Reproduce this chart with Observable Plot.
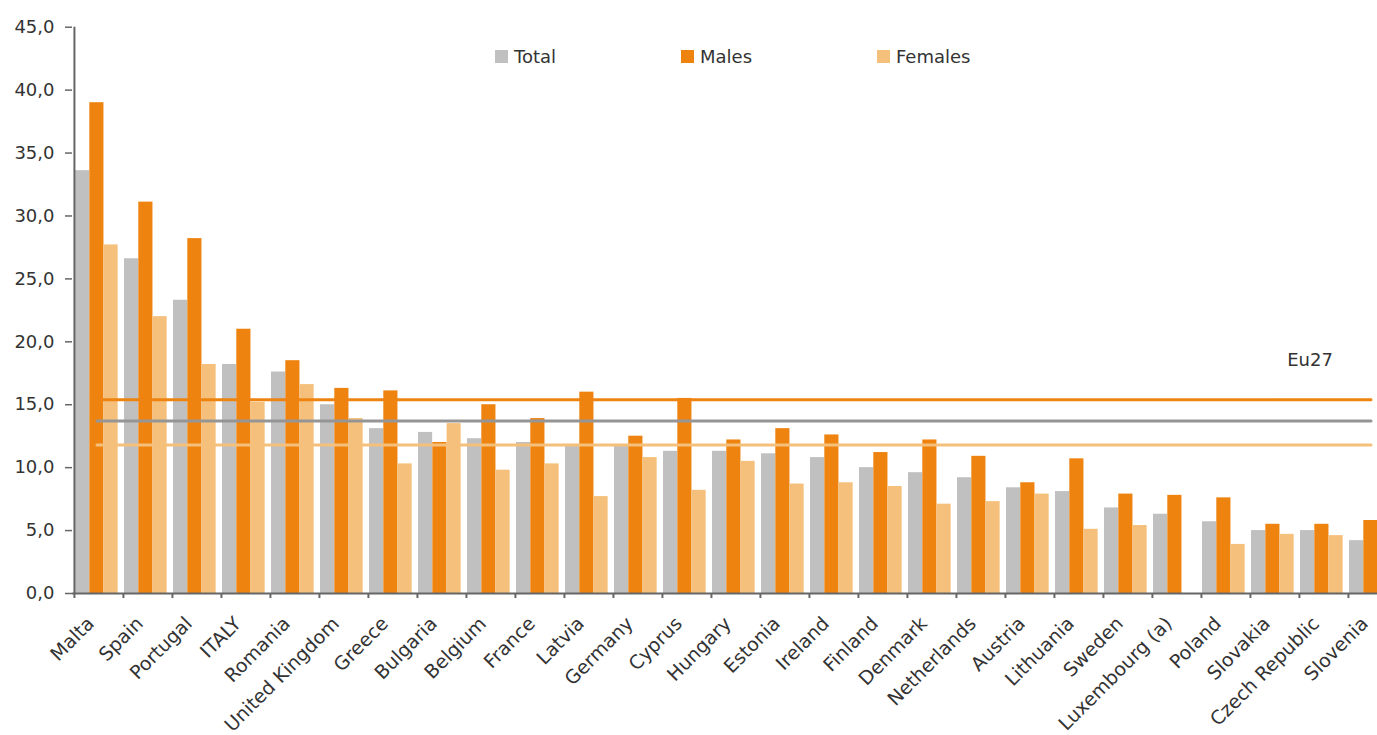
<!DOCTYPE html>
<html><head><meta charset="utf-8">
<script src="https://cdn.jsdelivr.net/npm/d3@7"></script>
<script src="https://cdn.jsdelivr.net/npm/@observablehq/plot@0.6"></script>
<style>
html,body{margin:0;padding:0;background:#fff;overflow:hidden;width:1377px;height:735px}
#wrap{position:relative;width:1377px;height:735px;overflow:hidden}
.item{position:absolute;top:47px;white-space:nowrap;display:flex;align-items:center;font:18px "DejaVu Sans";color:#333;height:18px}
.sw{display:inline-block;width:13px;height:13px;margin-right:6px}
</style></head><body><div id="wrap"><div id="chart"></div><div id="legend"></div></div>
<script>
const countries = ["Malta","Spain","Portugal","ITALY","Romania","United Kingdom","Greece","Bulgaria","Belgium","France","Latvia","Germany","Cyprus","Hungary","Estonia","Ireland","Finland","Denmark","Netherlands","Austria","Lithuania","Sweden","Luxembourg (a)","Poland","Slovakia","Czech Republic","Slovenia"];
const total   = [33.6,26.6,23.3,18.2,17.6,15.0,13.1,12.8,12.3,12.0,11.7,11.8,11.3,11.3,11.1,10.8,10.0,9.6,9.2,8.4,8.1,6.8,6.3,5.7,5.0,5.0,4.2];
const males   = [39.0,31.1,28.2,21.0,18.5,16.3,16.1,12.0,15.0,13.9,16.0,12.5,15.5,12.2,13.1,12.6,11.2,12.2,10.9,8.8,10.7,7.9,7.8,7.6,5.5,5.5,5.8];
const females = [27.7,22.0,18.2,15.2,16.6,13.9,10.3,13.5,9.8,10.3,7.7,10.8,8.2,10.5,8.7,8.8,8.5,7.1,7.3,7.9,5.1,5.4,null,3.9,4.7,4.6,null];
const seriesNames  = ["Total","Males","Females"];
const seriesColors = ["#c0c0c0","#ee8310","#f5c07b"];
const eu27Total = 13.7, eu27Males = 15.4, eu27Females = 11.8;
const eu27Label = "Eu27";
const yTicks = [0,5,10,15,20,25,30,35,40,45];

const rows = countries.map((c,i)=>({country:c,total:total[i],males:males[i],females:females[i]}));

const W = 1399, H = 735, mL = 72, mT = 26.7, mB = 142;
const bw = (W - mL) / countries.length;
const fmt = v => d3.format(".1f")(v).replace(".", ",");
const txt = "#333", axc = "#666";

const chart = Plot.plot({
  width: W, height: H, marginLeft: mL, marginRight: 0, marginTop: mT, marginBottom: mB,
  style: {fontFamily: "DejaVu Sans", fontSize: "18px", color: txt, maxWidth: "none", background: "white", overflow: "visible"},
  x: {domain: countries, type: "band", padding: 0, axis: null},
  y: {domain: [0,45], axis: null},
  marks: [
    Plot.barY(rows.filter(d=>d.total!=null), {x:"country", y:"total", fill: seriesColors[0], insetLeft: 1, insetRight: bw-15.3}),
    Plot.barY(rows.filter(d=>d.males!=null), {x:"country", y:"males", fill: seriesColors[1], insetLeft: 15.3, insetRight: bw-29.6}),
    Plot.barY(rows.filter(d=>d.females!=null), {x:"country", y:"females", fill: seriesColors[2], insetLeft: 29.6, insetRight: bw-43.8}),
    Plot.lineY(countries, {x: d=>d, y: ()=>eu27Males, stroke: "#ee8310", strokeWidth: 3, dx: -2}),
    Plot.lineY(countries, {x: d=>d, y: ()=>eu27Total, stroke: "#959595", strokeWidth: 3, dx: -2}),
    Plot.lineY(countries, {x: d=>d, y: ()=>eu27Females, stroke: "#f5c07b", strokeWidth: 3, dx: -2}),
    Plot.axisY(yTicks, {tickSize: 7, tickPadding: 11, tickFormat: fmt, stroke: axc, strokeWidth: 1.5, fill: txt}),
    Plot.ruleY([0], {stroke: axc, strokeWidth: 2}),
    Plot.ruleX([countries[0]], {x: d=>d, dx: -bw/2, y1: 0, y2: 45, stroke: axc, strokeWidth: 2}),
    Plot.ruleX(countries, {x: d=>d, dx: -bw/2, y1: 0, y2: -0.4, stroke: axc, strokeWidth: 2}),
    Plot.text(countries, {x: d=>d, frameAnchor: "bottom", dy: 27, dx: -8, rotate: -45, textAnchor: "end", lineAnchor: "middle", fill: txt, fontSize: 19}),
    Plot.text([eu27Label], {x: ()=>"Czech Republic", y: ()=>18.5, dx: -14, fill: txt})
  ]
});
document.getElementById("chart").appendChild(chart);

const legendLeft = [495, 681, 877];
const lg = document.getElementById("legend");
seriesNames.forEach((n,i)=>{
  const it = document.createElement("div");
  it.className = "item";
  it.style.left = legendLeft[i] + "px";
  it.innerHTML = `<span class="sw" style="background:${seriesColors[i]}"></span>${n}`;
  lg.appendChild(it);
});
</script></body></html>
